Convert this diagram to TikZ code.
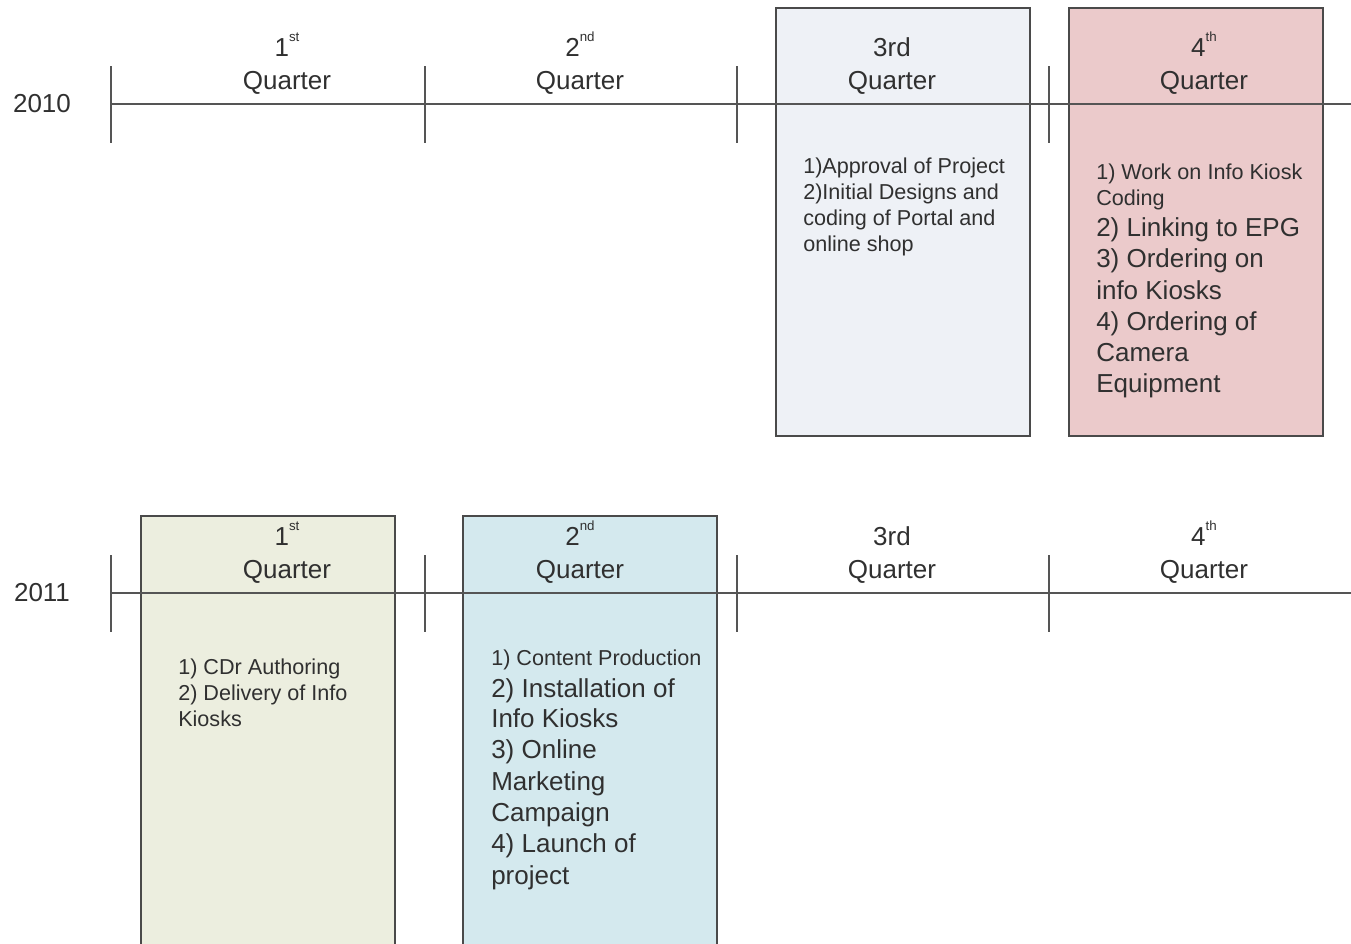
\documentclass[tikz,border=0pt]{standalone}
\usepackage{fontspec}
\setmainfont{Liberation Sans}
\definecolor{linegray}{HTML}{555555}
\definecolor{boxgray}{HTML}{4A4A4A}
\definecolor{txt}{HTML}{303030}
\definecolor{fillA}{HTML}{EEF1F6}
\definecolor{fillB}{HTML}{EBCACB}
\definecolor{fillC}{HTML}{ECEEDF}
\definecolor{fillD}{HTML}{D4E9EE}
\newcommand{\sups}[1]{\raisebox{1.05ex}{\fontsize{10}{10}\selectfont #1}}
\begin{document}
\begin{tikzpicture}[x=0.75pt,y=-0.75pt,
  tl/.style={draw=linegray,line width=1.5pt},
  boxline/.style={draw=boxgray,line width=1.3pt},
  lbl/.style={text=txt,inner sep=0pt,font=\fontsize{19.5}{23}\selectfont},
  big/.style={text=txt,inner sep=0pt,anchor=base west,font=\fontsize{19.5}{23}\selectfont},
  small/.style={text=txt,inner sep=0pt,anchor=base west,font=\fontsize{16.2}{19}\selectfont}]
\useasboundingbox (0,0) rectangle (1351,943);
% ---------- boxes ----------
\path[fill=fillA,boxline] (776,8) rectangle (1030,436);
\path[fill=fillB,boxline] (1069,8) rectangle (1323,436);
\fill[fillC] (141,516) rectangle (395,945);
\draw[boxline] (141,945) -- (141,516) -- (395,516) -- (395,945);
\fill[fillD] (463,516) rectangle (717,945);
\draw[boxline] (463,945) -- (463,516) -- (717,516) -- (717,945);
% ---------- timelines ----------
\foreach \y/\yr in {104/a,593/b}{
  \coordinate (s\yr) at (111,\y);
  \coordinate (e\yr) at (1351,\y);
  \draw[tl] (s\yr) -- (e\yr);
  \foreach \x in {111,425,737,1049}{
    \draw[tl] (\x,\y-38) -- (\x,\y+39);
  }
}
% ---------- year labels ----------
\node[lbl,anchor=base] (y2010) at (42,112) {2010};
\node[lbl,anchor=base] (y2011) at (42,601) {2011};
% ---------- quarter labels ----------
\foreach \yo/\nm in {0/a,489/b}{
  \node[lbl,anchor=base] (q1\nm) at (287,56+\yo) {1\sups{st}};
  \node[lbl,anchor=base] (q2\nm) at (580,56+\yo) {2\sups{nd}};
  \node[lbl,anchor=base] (q3\nm) at (892,56+\yo) {3rd};
  \node[lbl,anchor=base] (q4\nm) at (1204,56+\yo) {4\sups{th}};
  \node[lbl,anchor=base] (Q1\nm) at (287,89+\yo) {Quarter};
  \node[lbl,anchor=base] (Q2\nm) at (580,89+\yo) {Quarter};
  \node[lbl,anchor=base] (Q3\nm) at (892,89+\yo) {Quarter};
  \node[lbl,anchor=base] (Q4\nm) at (1204,89+\yo) {Quarter};
}
% ---------- 2010 Q3 ----------
\node[small] (c1) at (803,173) {1)Approval of Project};
\node[small] (c2) at (803,199) {2)Initial Designs and};
\node[small] (c3) at (803,225) {coding of Portal and};
\node[small] (c4) at (803,251) {online shop};
% ---------- 2010 Q4 ----------
\node[small] (d1) at (1096,179) {1) Work on Info Kiosk};
\node[small] (d2) at (1096,205) {Coding};
\node[big] (d3) at (1096,236) {2) Linking to EPG};
\node[big] (d4) at (1096,267) {3) Ordering on};
\node[big] (d5) at (1096,299) {info Kiosks};
\node[big] (d6) at (1096,330) {4) Ordering of};
\node[big] (d7) at (1096,361) {Camera};
\node[big] (d8) at (1096,392) {Equipment};
% ---------- 2011 Q1 ----------
\node[small] (e1) at (178,674) {1) CDr Authoring};
\node[small] (e2) at (178,700) {2) Delivery of Info};
\node[small] (e3) at (178,726) {Kiosks};
% ---------- 2011 Q2 ----------
\node[small] (f1) at (491,665) {1) Content Production};
\node[big] (f2) at (491,697) {2) Installation of};
\node[big] (f3) at (491,727) {Info Kiosks};
\node[big] (f4) at (491,758) {3) Online};
\node[big] (f5) at (491,790) {Marketing};
\node[big] (f6) at (491,821) {Campaign};
\node[big] (f7) at (491,852) {4) Launch of};
\node[big] (f8) at (491,884) {project};
\end{tikzpicture}
\end{document}
